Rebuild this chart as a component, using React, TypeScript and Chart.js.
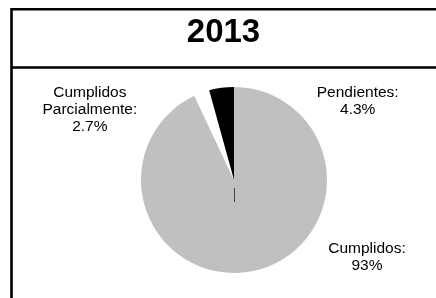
import React, { useEffect, useRef } from "react";
import { Chart, registerables } from "chart.js";

Chart.register(...registerables);

const TITLE = "2013";
const categories = ["Cumplidos", "Cumplidos Parcialmente", "Pendientes"];
const values = [93, 2.7, 4.3];
const valueLabels = ["93%", "2.7%", "4.3%"];
const labelLines = [
  ["Cumplidos:", "93%"],
  ["Cumplidos", "Parcialmente:", "2.7%"],
  ["Pendientes:", "4.3%"],
];
const colors = ["#C0C0C0", "#FFFFFF", "#000000"];

// label anchor positions (pixel offsets relative to pie center, in radius units)
const LABEL_ANCHORS = [
  { dx: 1.43, dy: 0.83 },
  { dx: -1.55, dy: -0.76 },
  { dx: 1.33, dy: -0.85 },
];

const FONT = "Liberation Sans, Arial, sans-serif";

const framePlugin = {
  id: "framePlugin",
  beforeDraw(chart: any) {
    const ctx = chart.ctx;
    const w = chart.width;
    const h = chart.height;
    ctx.save();
    ctx.fillStyle = "#ffffff";
    ctx.fillRect(0, 0, w, h);
    ctx.strokeStyle = "#000000";
    ctx.lineWidth = 2.6;
    ctx.beginPath();
    ctx.moveTo(11.5, 9.3);
    ctx.lineTo(11.5, h);
    ctx.moveTo(10.2, 9.3);
    ctx.lineTo(w, 9.3);
    ctx.moveTo(10.2, 67.5);
    ctx.lineTo(w, 67.5);
    ctx.stroke();
    ctx.fillStyle = "#000000";
    ctx.font = `bold 33px ${FONT}`;
    ctx.textAlign = "center";
    ctx.textBaseline = "middle";
    ctx.fillText(TITLE, 223.5, 33);
    ctx.restore();
  },
  afterDraw(chart: any) {
    const ctx = chart.ctx;
    const arc = chart.getDatasetMeta(0).data[0];
    if (!arc) return;
    const cx = arc.x;
    const cy = arc.y;
    const r = arc.outerRadius;
    ctx.save();
    // small leader tick
    ctx.strokeStyle = "#404040";
    ctx.lineWidth = 1;
    ctx.beginPath();
    ctx.moveTo(Math.round(cx) + 0.5, cy + 8);
    ctx.lineTo(Math.round(cx) + 0.5, cy + 22);
    ctx.stroke();
    ctx.fillStyle = "#000000";
    ctx.font = `15.5px ${FONT}`;
    ctx.textAlign = "center";
    ctx.textBaseline = "middle";
    const lh = 17;
    labelLines.forEach((lines, i) => {
      const a = LABEL_ANCHORS[i];
      const x = cx + a.dx * r;
      const y = cy + a.dy * r;
      const y0 = y - ((lines.length - 1) * lh) / 2;
      lines.forEach((t, j) => ctx.fillText(t, x, y0 + j * lh));
    });
    ctx.restore();
  },
};

export default function App() {
  const ref = useRef<HTMLCanvasElement | null>(null);
  useEffect(() => {
    document.body.style.margin = "0";
    const canvas = ref.current;
    if (!canvas) return;
    const chart = new Chart(canvas, {
      type: "pie",
      data: {
        labels: categories,
        datasets: [
          {
            data: values,
            backgroundColor: colors,
            borderWidth: 0,
            hoverOffset: 0,
          },
        ],
      },
      options: {
        responsive: false,
        animation: false,
        events: [],
        layout: { padding: { left: 141, right: 109, top: 87, bottom: 25 } },
        plugins: {
          legend: { display: false },
          title: { display: false },
          tooltip: { enabled: false },
        },
      },
      plugins: [framePlugin],
    });
    return () => chart.destroy();
  }, []);
  return (
    <div style={{ width: 436, height: 298 }}>
      <canvas ref={ref} width={436} height={298} style={{ display: "block" }} />
    </div>
  );
}
